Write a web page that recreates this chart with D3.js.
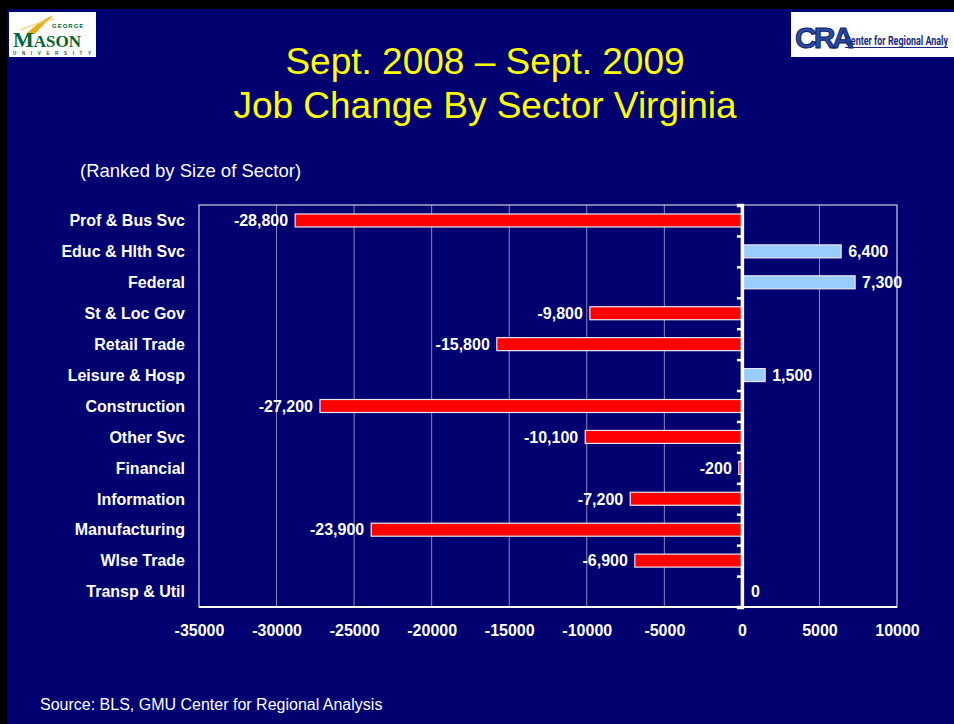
<!DOCTYPE html>
<html><head><meta charset="utf-8">
<script src="https://cdn.jsdelivr.net/npm/d3@7"></script>
<style>html,body{margin:0;padding:0;background:#000070;overflow:hidden}svg{display:block}</style>
</head><body>
<script>
const categories = ["Prof & Bus Svc","Educ & Hlth Svc","Federal","St & Loc Gov","Retail Trade","Leisure & Hosp","Construction","Other Svc","Financial","Information","Manufacturing","Wlse Trade","Transp & Util"];
const values = [-28800,6400,7300,-9800,-15800,1500,-27200,-10100,-200,-7200,-23900,-6900,0];
const xTicks = [-35000,-30000,-25000,-20000,-15000,-10000,-5000,0,5000,10000];
const titleLines = ["Sept. 2008 \u2013 Sept. 2009","Job Change By Sector Virginia"];
const subtitle = "(Ranked by Size of Sector)";
const source = "Source: BLS, GMU Center for Regional Analysis";

const W = 954, H = 724;
const svg = d3.select("body").append("svg").attr("width", W).attr("height", H);
const font = "Arial, 'Liberation Sans', Helvetica, sans-serif";

// background & slide frame
svg.append("rect").attr("width", W).attr("height", H).attr("fill", "#000070");
svg.append("rect").attr("x",0).attr("y",0).attr("width",W).attr("height",9).attr("fill","#000");
svg.append("rect").attr("x",0).attr("y",0).attr("width",7).attr("height",H).attr("fill","#000");

// GMU logo
const g1 = svg.append("g");
g1.append("rect").attr("x",9).attr("y",12).attr("width",87).attr("height",45).attr("fill","#fff");
g1.append("path").attr("d","M26 34 C36 24, 44 19, 54 15 C47 21, 41 27, 35 34 Z").attr("fill","#e8b020");
g1.append("path").attr("d","M20 30 C32 25, 42 22, 54 19").attr("fill","none").attr("stroke","#eccc60").attr("stroke-width",1.5).attr("opacity",0.7);
g1.append("text").attr("x",52).attr("y",28).attr("font-family",font).attr("font-weight","bold").attr("font-size",6).attr("fill","#006633").attr("letter-spacing",1).text("GEORGE");
g1.append("text").attr("x",13).attr("y",47).attr("font-family","'Liberation Serif', 'DejaVu Serif', serif").attr("font-weight","bold").attr("fill","#006633")
  .call(t=>{t.append("tspan").attr("font-size",22).text("M"); t.append("tspan").attr("font-size",17).attr("dy",0).text("ASON");});
g1.append("text").attr("x",13).attr("y",54.5).attr("font-family",font).attr("font-weight","bold").attr("font-size",4.5).attr("fill","#006633").attr("textLength",78).attr("lengthAdjust","spacing").text("UNIVERSITY");

// CRA logo
const g2 = svg.append("g");
g2.append("rect").attr("x",791).attr("y",12).attr("width",163).attr("height",45).attr("fill","#fff");
g2.append("text").attr("x",795).attr("y",48).attr("font-family",font).attr("font-weight","bold").attr("font-size",30).attr("fill","#2b4aa0").attr("stroke","#0a1f6a").attr("stroke-width",1).attr("letter-spacing",-3).text("CRA");
g2.append("text").attr("x",845).attr("y",45).attr("font-family","'Liberation Sans Narrow', 'Roboto', Arial, sans-serif").attr("font-weight","bold").attr("font-size",12.5).attr("fill","#1a2a7a").attr("textLength",103).attr("lengthAdjust","spacingAndGlyphs").text("Center for Regional Analy");
g2.append("line").attr("x1",845).attr("x2",948).attr("y1",47.5).attr("y2",47.5).attr("stroke","#1a2a7a").attr("stroke-width",1);

// titles
svg.selectAll("text.title").data(titleLines).join("text").attr("class","title")
  .attr("x",485).attr("y",(d,i)=>74+i*44).attr("text-anchor","middle")
  .attr("font-family",font).attr("font-size",37).attr("fill","#ffff00").text(d=>d);
svg.append("text").attr("x",80).attr("y",177).attr("font-family",font).attr("font-size",18.5).attr("fill","#fff").text(subtitle);
svg.append("text").attr("x",40).attr("y",710).attr("font-family",font).attr("font-size",16).attr("fill","#fff").text(source);

// scales
const pLeft = 199, pRight = 897, pTop = 205, pBottom = 607;
const x = d3.scaleLinear().domain([-35000,10000]).range([pLeft,pRight]);
const y = d3.scaleBand().domain(categories).range([pTop,pBottom]).paddingInner(0.58).paddingOuter(0.29);
const data = categories.map((c,i)=>({c, v: values[i]}));
const fmt = v => d3.format(",")(v).replace("\u2212","-");

// gridlines
svg.append("g").selectAll("line").data(xTicks.filter(t=>t!==0 && t!==-35000 && t!==10000)).join("line")
  .attr("x1",d=>x(d)).attr("x2",d=>x(d)).attr("y1",pTop).attr("y2",pBottom)
  .attr("stroke","#8a8ab8").attr("stroke-width",1);

// plot border
svg.append("rect").attr("x",pLeft).attr("y",pTop).attr("width",pRight-pLeft).attr("height",pBottom-pTop)
  .attr("fill","none").attr("stroke","#d0d0e0").attr("stroke-width",1.2);
svg.append("line").attr("x1",pLeft).attr("x2",pRight).attr("y1",pBottom).attr("y2",pBottom).attr("stroke","#fff").attr("stroke-width",2);

// bars
svg.append("g").selectAll("rect").data(data.filter(d=>d.v!==0)).join("rect")
  .attr("x",d=>x(Math.min(0,d.v))).attr("y",d=>y(d.c))
  .attr("width",d=>Math.abs(x(d.v)-x(0))).attr("height",y.bandwidth())
  .attr("fill",d=>d.v<0?"#ff0000":"#99ccff").attr("stroke","#e8e8f0").attr("stroke-width",1.2);

// zero axis
const yAxis = d3.axisLeft(d3.scaleLinear().domain([0,categories.length]).range([pTop,pBottom]))
  .ticks(categories.length).tickSize(5).tickFormat("");
const ax = svg.append("g").attr("transform",`translate(${x(0)},0)`).call(yAxis);
ax.select(".domain").attr("stroke","#fff").attr("stroke-width",3.5);
ax.selectAll(".tick line").attr("stroke","#fff").attr("stroke-width",2.5);

// category labels
svg.append("g").selectAll("text").data(categories).join("text")
  .attr("x",185).attr("y",d=>y(d)+y.bandwidth()/2).attr("dy","0.36em").attr("text-anchor","end")
  .attr("font-family",font).attr("font-weight","bold").attr("font-size",16).attr("fill","#fff").text(d=>d);

// value labels
svg.append("g").selectAll("text").data(data).join("text")
  .attr("x",d=>d.v<0? x(d.v)-7 : x(d.v)+(d.v===0?9:7))
  .attr("y",d=>y(d.c)+y.bandwidth()/2).attr("dy","0.36em")
  .attr("text-anchor",d=>d.v<0?"end":"start")
  .attr("font-family",font).attr("font-weight","bold").attr("font-size",16).attr("fill","#fff").text(d=>fmt(d.v));

// x tick labels
const xAxis = d3.axisBottom(x).tickValues(xTicks).tickSize(0).tickPadding(0).tickFormat(d=>String(d));
const xa = svg.append("g").attr("transform",`translate(0,${pBottom})`).call(xAxis);
xa.select(".domain").remove();
xa.selectAll("text").attr("y",29).attr("dy",0).attr("font-family",font).attr("font-weight","bold").attr("font-size",16).attr("fill","#fff");
</script>
</body></html>
